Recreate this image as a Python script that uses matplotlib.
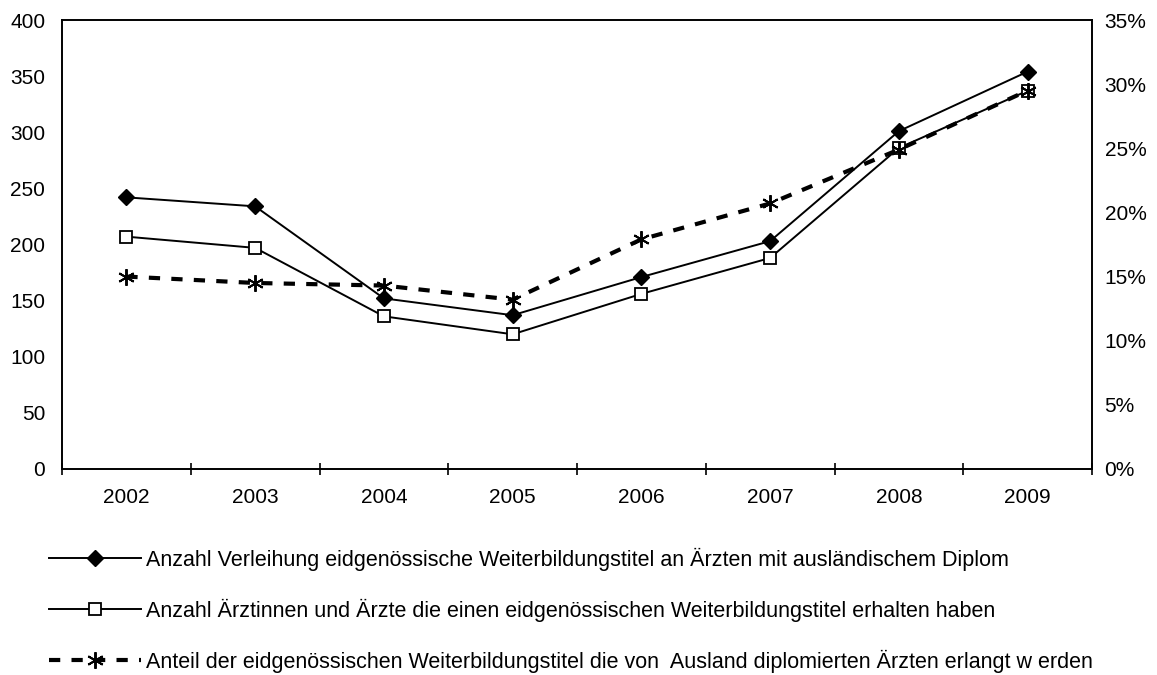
import matplotlib
matplotlib.use("Agg")
import matplotlib.pyplot as plt
from matplotlib.ticker import FuncFormatter, FixedLocator

plt.rcParams['font.family'] = ['Liberation Sans', 'DejaVu Sans']

years = ['2002', '2003', '2004', '2005', '2006', '2007', '2008', '2009']
titel_ausland = [242, 234, 152, 137, 171, 203, 301, 354]
titel_total = [207, 197, 136, 120, 156, 188, 286, 337]
anteil_ausland = [0.150, 0.145, 0.143, 0.132, 0.179, 0.207, 0.249, 0.295]

labels = [
    'Anzahl Verleihung eidgenössische Weiterbildungstitel an Ärzten mit ausländischem Diplom',
    'Anzahl Ärztinnen und Ärzte die einen eidgenössischen Weiterbildungstitel erhalten haben',
    'Anteil der eidgenössischen Weiterbildungstitel die von  Ausland diplomierten Ärzten erlangt w erden',
]

fig = plt.figure(figsize=(11.57, 6.75), dpi=100)
ax = fig.add_axes([62/1157, 1 - 469/675, (1092-62)/1157, (469-20)/675])
x = list(range(len(years)))

l1, = ax.plot(x, titel_ausland, color='black', lw=1.4, marker='D', ms=8,
              mfc='black', mec='black', label=labels[0], zorder=3)
l2, = ax.plot(x, titel_total, color='black', lw=1.4, marker='s', ms=8.5,
              mfc='white', mec='black', mew=1.3, label=labels[1], zorder=3)

ax2 = ax.twinx()
l3, = ax2.plot(x, anteil_ausland, color='black', lw=3, linestyle=(0, (2.7, 2.7)),
               marker=(6, 2, 0), ms=12, mew=1.4, mec='black', label=labels[2], zorder=3)

ax.set_xlim(-0.5, len(years) - 0.5)
ax.set_ylim(0, 400)
ax.set_yticks(range(0, 401, 50))
ax2.set_ylim(0, 0.35)
ax2.set_yticks([i * 0.05 for i in range(8)])
ax2.yaxis.set_major_formatter(FuncFormatter(lambda v, p: f'{v*100:.0f}%'))

ax.set_xticks(x)
ax.set_xticklabels(years)
ax.xaxis.set_minor_locator(FixedLocator([i - 0.5 for i in range(len(years) + 1)]))
ax.tick_params(axis='x', which='major', length=0, labelsize=15, pad=14)
ax.tick_params(axis='x', which='minor', length=8, direction='inout', width=1.2)
ax.tick_params(axis='y', length=0, labelsize=15, pad=12)
ax2.tick_params(axis='y', length=0, labelsize=15, pad=9)

for a in (ax, ax2):
    for s in a.spines.values():
        s.set_linewidth(1.2)
        s.set_color('black')

fig.legend(handles=[l1, l2, l3], labels=labels, loc='upper left',
           bbox_to_anchor=(40/1157, 1 - 539/675), frameon=False, fontsize=15.5,
           handlelength=4.3, handletextpad=0.23, labelspacing=1.3, borderaxespad=0)

fig.savefig('out.png', dpi=100)
